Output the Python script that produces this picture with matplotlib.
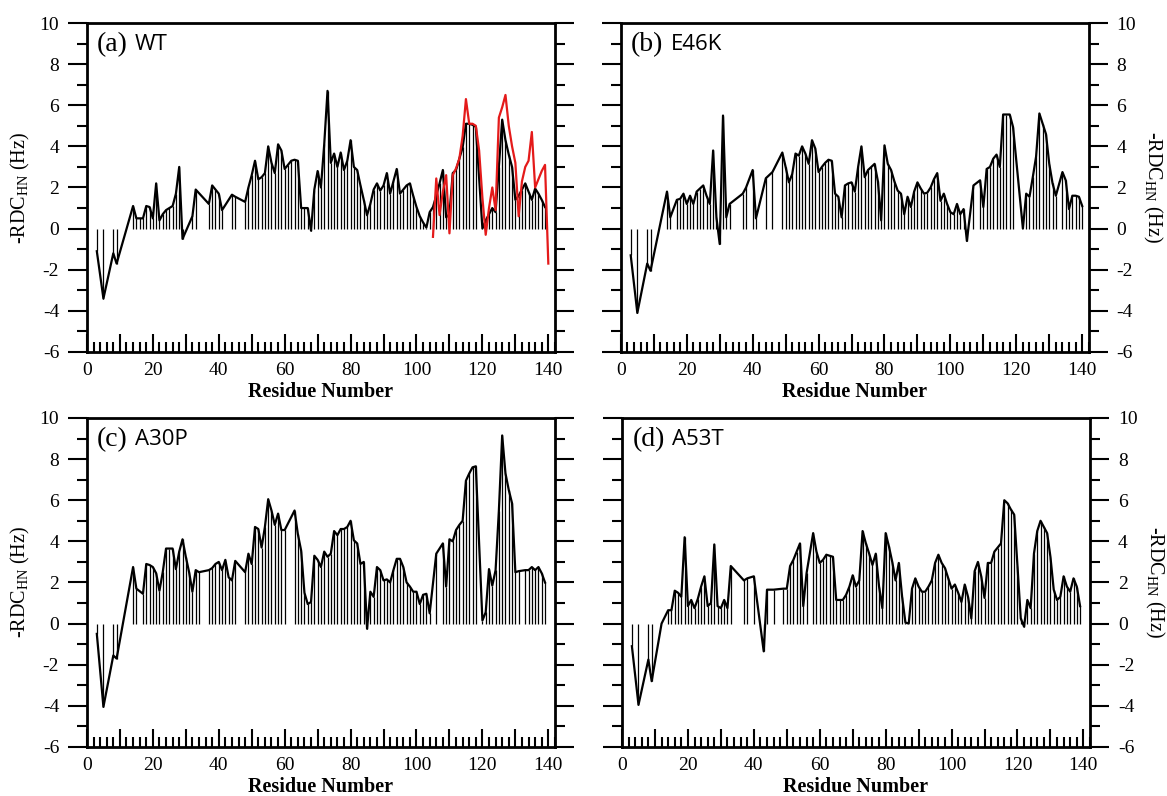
import numpy as np
import matplotlib
matplotlib.use("Agg")
import matplotlib.pyplot as plt
from matplotlib.ticker import MultipleLocator, FuncFormatter

plt.rcParams["axes.unicode_minus"] = False

# -RDC(HN) per residue
wt_res = [3, 5, 8, 9, 14, 15, 16, 17, 18, 19,
          20, 21, 22, 23, 24, 25, 26, 27, 28, 29,
          32, 33, 37, 38, 39, 40, 41, 44, 45, 48,
          49, 50, 51, 52, 53, 54, 55, 56, 57, 58,
          59, 60, 61, 62, 63, 64, 65, 66, 67, 68,
          69, 70, 71, 72, 73, 74, 75, 76, 77, 78,
          79, 80, 81, 82, 83, 84, 85, 86, 87, 88,
          89, 90, 91, 92, 93, 94, 95, 96, 97, 98,
          99, 100, 101, 102, 103, 104, 105, 106, 107, 108,
          109, 110, 111, 112, 113, 114, 115, 116, 117, 118,
          120, 121, 122, 123, 124, 125, 126, 127, 128, 129,
          130, 131, 132, 133, 134, 135, 136, 137, 138, 139]
wt_rdc = [-1.1, -3.4, -1.2, -1.7, 1.1, 0.5, 0.5, 0.5, 1.1, 1.05,
          0.5, 2.2, 0.4, 0.7, 0.9, 1.0, 1.1, 1.7, 3.0, -0.5,
          0.6, 1.9, 1.2, 2.1, 1.9, 1.7, 0.9, 1.65, 1.55, 1.3,
          2.0, 2.6, 3.3, 2.4, 2.5, 2.7, 4.0, 3.2, 2.7, 4.1,
          3.8, 2.9, 3.1, 3.3, 3.35, 3.3, 1.0, 1.0, 1.0, -0.1,
          1.9, 2.8, 2.0, 4.1, 6.7, 3.2, 3.65, 3.0, 3.7, 2.85,
          3.3, 4.3, 3.0, 2.85, 2.1, 1.4, 0.65, 1.2, 1.9, 2.2,
          1.85, 2.1, 2.7, 1.7, 2.3, 2.9, 1.7, 1.9, 2.1, 2.2,
          1.6, 1.05, 0.6, 0.3, 0.05, 0.8, 1.05, 1.6, 2.2, 2.85,
          0.55, 0.7, 2.7, 2.85, 3.4, 3.95, 5.1, 5.1, 5.05, 4.95,
          0.0, 0.4, 0.7, 1.0, 0.8, 3.0, 5.3, 4.3, 3.6, 3.0,
          1.4, 1.6, 1.9, 2.2, 1.8, 1.4, 1.95, 1.7, 1.4, 1.05]

# red curve in panel (a), residues 105-140
wt_red_res = list(range(105, 141))
wt_red_rdc = [-0.4, 2.44, 0.66, 1.8, 2.6, -0.23, 2.6, 2.93, 3.4, 4.5,
              6.3, 5.1, 5.1, 5.0, 3.8, 1.5, -0.3, 1.0, 2.0, 0.9,
              5.4, 5.9, 6.5, 5.0, 4.0, 3.2, 0.6, 2.3, 3.0, 3.3,
              4.7, 2.0, 2.4, 2.8, 3.1, -1.7]

e46k_res = [3, 5, 8, 9, 14, 15, 17, 18, 19, 20,
            21, 22, 23, 24, 25, 26, 27, 28, 29, 30,
            31, 32, 33, 37, 38, 40, 41, 44, 46, 49,
            50, 51, 52, 53, 54, 55, 56, 57, 58, 59,
            60, 61, 62, 63, 64, 65, 66, 67, 68, 69,
            70, 71, 72, 73, 74, 75, 76, 77, 78, 79,
            80, 81, 82, 83, 84, 85, 86, 87, 88, 89,
            90, 91, 92, 93, 94, 95, 96, 97, 98, 99,
            100, 101, 102, 103, 104, 105, 107, 109, 110, 111,
            112, 113, 114, 115, 116, 117, 118, 119, 122, 123,
            124, 125, 126, 127, 128, 129, 130, 131, 132, 134,
            135, 136, 137, 138, 139, 140]
e46k_rdc = [-1.3, -4.1, -1.7, -2.05, 1.8, 0.55, 1.4, 1.45, 1.7, 1.2,
            1.6, 1.2, 1.8, 1.95, 2.1, 1.6, 1.2, 3.8, 0.55, -0.75,
            5.5, 0.55, 1.2, 1.7, 2.0, 2.85, 0.5, 2.45, 2.75, 3.7,
            3.0, 2.25, 2.65, 3.65, 3.55, 4.0, 3.65, 3.15, 4.3, 3.9,
            2.75, 3.0, 3.2, 3.35, 3.3, 1.7, 1.55, 0.55, 2.1, 2.2,
            2.25, 1.8, 3.0, 4.0, 2.5, 2.85, 3.0, 3.15, 2.3, 0.4,
            4.05, 3.15, 2.85, 2.3, 1.85, 1.7, 0.7, 1.55, 1.05, 1.8,
            2.25, 1.95, 1.7, 1.75, 2.0, 2.4, 2.7, 1.35, 1.7, 1.2,
            0.8, 0.7, 1.2, 0.7, 0.95, -0.6, 2.1, 2.35, 1.05, 2.9,
            3.0, 3.4, 3.6, 3.0, 5.55, 5.55, 5.55, 4.95, 0.0, 1.7,
            1.55, 2.5, 3.5, 5.6, 5.1, 4.6, 3.15, 2.2, 1.6, 2.75,
            2.35, 0.95, 1.6, 1.6, 1.55, 1.1]

a30p_res = [3, 5, 8, 9, 14, 15, 17, 18, 19, 20,
            21, 22, 23, 24, 25, 26, 27, 28, 29, 30,
            31, 32, 33, 34, 37, 38, 39, 40, 41, 42,
            43, 44, 45, 48, 49, 50, 51, 52, 53, 54,
            55, 56, 57, 58, 59, 60, 63, 64, 65, 66,
            67, 68, 69, 70, 71, 72, 73, 74, 75, 76,
            77, 78, 79, 80, 81, 82, 83, 84, 85, 86,
            87, 88, 89, 90, 91, 92, 93, 94, 95, 96,
            97, 98, 99, 100, 101, 102, 103, 104, 106, 108,
            109, 110, 111, 112, 113, 114, 115, 116, 117, 118,
            120, 121, 122, 123, 124, 125, 126, 127, 128, 129,
            130, 131, 133, 134, 135, 136, 137, 138, 139]
a30p_rdc = [-0.5, -4.05, -1.55, -1.7, 2.75, 1.7, 1.45, 2.9, 2.85, 2.75,
            2.45, 1.6, 2.5, 3.65, 3.65, 3.65, 2.65, 3.5, 4.1, 3.25,
            2.5, 1.55, 2.6, 2.5, 2.6, 2.7, 2.9, 3.0, 2.6, 3.1,
            2.25, 2.1, 3.05, 2.5, 3.4, 2.9, 4.7, 4.6, 3.7, 4.7,
            6.05, 5.5, 4.8, 5.35, 4.55, 4.55, 5.5, 4.35, 3.55, 1.5,
            0.95, 1.05, 3.3, 3.1, 2.75, 3.5, 3.25, 3.4, 4.5, 4.3,
            4.6, 4.6, 4.7, 5.0, 4.05, 3.9, 2.9, 3.0, -0.25, 1.55,
            1.3, 2.75, 2.6, 2.1, 2.15, 2.0, 2.6, 3.15, 3.15, 2.75,
            2.0, 1.8, 1.55, 1.55, 0.95, 1.4, 1.45, 0.5, 3.4, 3.9,
            1.8, 4.1, 4.0, 4.55, 4.8, 5.0, 6.95, 7.3, 7.6, 7.65,
            0.15, 0.55, 2.65, 1.85, 2.6, 5.5, 9.15, 7.3, 6.5, 5.85,
            2.5, 2.55, 2.6, 2.6, 2.75, 2.6, 2.75, 2.45, 2.0]

a53t_res = [3, 5, 8, 9, 12, 14, 15, 16, 17, 18,
            19, 20, 21, 22, 23, 24, 25, 26, 27, 28,
            29, 30, 31, 32, 33, 37, 38, 40, 43, 44,
            46, 49, 50, 51, 52, 53, 54, 55, 56, 58,
            59, 60, 61, 62, 63, 64, 65, 66, 67, 68,
            69, 70, 71, 72, 73, 74, 75, 76, 77, 78,
            79, 80, 81, 82, 83, 84, 85, 86, 87, 88,
            89, 90, 91, 92, 93, 94, 95, 96, 97, 98,
            99, 100, 101, 102, 103, 104, 105, 106, 107, 108,
            109, 110, 111, 112, 113, 114, 115, 116, 117, 118,
            119, 120, 121, 122, 123, 124, 125, 126, 127, 128,
            129, 130, 131, 132, 133, 134, 135, 136, 137, 138,
            139]
a53t_rdc = [-1.1, -3.95, -1.75, -2.8, 0.0, 0.65, 0.65, 1.6, 1.5, 1.3,
            4.2, 0.85, 1.15, 0.75, 1.2, 1.8, 2.3, 0.85, 1.0, 3.85,
            0.85, 0.75, 1.15, 0.75, 2.8, 2.1, 2.2, 2.3, -1.35, 1.65,
            1.65, 1.7, 1.7, 2.8, 3.1, 3.5, 3.9, 0.85, 2.45, 4.4,
            3.5, 2.95, 3.1, 3.35, 3.3, 3.25, 1.15, 1.15, 1.15, 1.4,
            1.8, 2.35, 1.8, 2.1, 4.5, 3.9, 3.4, 2.85, 3.4, 1.8,
            0.75, 4.4, 3.75, 3.0, 2.1, 2.95, 1.3, 0.05, 0.0, 1.7,
            2.2, 1.8, 1.55, 1.55, 1.8, 2.1, 2.95, 3.35, 2.95, 2.7,
            2.2, 1.7, 1.9, 1.5, 1.05, 1.9, 1.3, 0.25, 2.55, 3.0,
            2.3, 1.25, 2.95, 2.95, 3.5, 3.7, 3.9, 6.0, 5.85, 5.55,
            5.3, 2.8, 0.25, -0.15, 1.15, 0.75, 3.4, 4.5, 5.0, 4.7,
            4.4, 3.25, 1.65, 1.15, 1.3, 2.3, 1.8, 1.55, 2.2, 1.8,
            0.85]

tags = ["(a)", "(b)", "(c)", "(d)"]
names = ["WT", "E46K", "A30P", "A53T"]

serif = "Liberation Serif"
ylab = r"-RDC$\mathregular{_{HN}}$ (Hz)"


def draw_panel(ax, res, rdc, tag, name, right):
    ax.vlines(res, 0, rdc, color="k", lw=0.9)
    ax.plot(res, rdc, color="k", lw=1.6)
    ax.set_xlim(0, 142)
    ax.set_ylim(-6, 10)

    ax.xaxis.set_major_locator(MultipleLocator(10))
    ax.xaxis.set_minor_locator(MultipleLocator(2))
    ax.xaxis.set_major_formatter(FuncFormatter(lambda v, p: "%d" % v if v % 20 == 0 else ""))
    ax.yaxis.set_major_locator(MultipleLocator(2))
    ax.yaxis.set_minor_locator(MultipleLocator(1))

    ax.tick_params(axis="x", which="both", direction="in", top=False, width=1.5, pad=7)
    ax.tick_params(axis="x", which="major", length=13)
    ax.tick_params(axis="x", which="minor", length=7)
    ax.tick_params(axis="y", which="both", direction="out", left=True, right=True,
                   labelleft=not right, labelright=right, width=1.5, pad=6)
    ax.tick_params(axis="y", which="major", length=14)
    ax.tick_params(axis="y", which="minor", length=7)
    for lab in ax.get_xticklabels() + ax.get_yticklabels():
        lab.set_family(serif)
        lab.set_fontsize(14)
    for sp in ax.spines.values():
        sp.set_linewidth(2.0)

    ax.set_xlabel("Residue Number", family=serif, fontsize=14.5, fontweight="bold",
                  va="center")
    ax.xaxis.set_label_coords(0.5, -0.123)
    if right:
        ax.yaxis.set_label_position("right")
        ax.set_ylabel(ylab, family=serif, fontsize=14.5, rotation=270, va="center")
        ax.yaxis.set_label_coords(1.137, 0.5)
    else:
        ax.set_ylabel(ylab, family=serif, fontsize=14.5, va="center")
        ax.yaxis.set_label_coords(-0.143, 0.5)

    t = ax.text(0.022, 0.935, tag, transform=ax.transAxes, family=serif,
                fontsize=20, va="center")
    ax.annotate(name, xy=(1, 0.5), xycoords=t, xytext=(5, 0), textcoords="offset points",
                va="center", fontsize=16, family="Open Sans")


fig = plt.figure(figsize=(11.67, 7.96), dpi=100)
w, h = 0.401, 0.4133
axa = fig.add_axes([0.0745, 0.5578, w, h])
axb = fig.add_axes([0.532, 0.5578, w, h])
axc = fig.add_axes([0.0745, 0.0616, w, h])
axd = fig.add_axes([0.533, 0.0616, w, h])

draw_panel(axa, wt_res, wt_rdc, tags[0], names[0], False)
axa.plot(wt_red_res, wt_red_rdc, color="#e41a1a", lw=1.6)
draw_panel(axb, e46k_res, e46k_rdc, tags[1], names[1], True)
draw_panel(axc, a30p_res, a30p_rdc, tags[2], names[2], False)
draw_panel(axd, a53t_res, a53t_rdc, tags[3], names[3], True)

fig.savefig("out.png", dpi=100)
